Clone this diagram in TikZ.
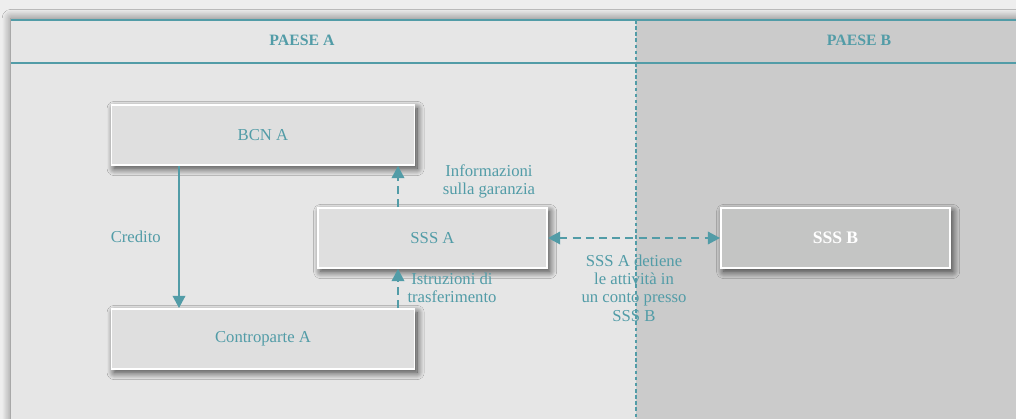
\documentclass[tikz,border=0pt]{standalone}
\usepackage{fontspec}
\setmainfont{Liberation Serif}
\usetikzlibrary{arrows.meta,positioning,shadows.blur}
\usepackage{xcolor}

\definecolor{verdeacqua}{RGB}{82,156,167}
\definecolor{sfondo}{RGB}{238,238,238}
\definecolor{paeseA}{RGB}{230,230,230}
\definecolor{paeseB}{RGB}{203,203,203}
\definecolor{boxchiaro}{RGB}{223,223,223}
\definecolor{boxscuro}{RGB}{196,197,196}

\begin{document}
\begin{tikzpicture}[font=\fontsize{9.5}{10.3}\selectfont, >={Triangle[length=7pt,width=7pt]}]
    % Stili
    \tikzstyle{riquadro} = [rectangle, draw=white, line width=1pt, fill=boxchiaro, text=verdeacqua, minimum width=6.06cm, minimum height=1.2cm, blur shadow={shadow blur steps=16, shadow xshift=1.5pt, shadow yshift=-2pt, shadow blur radius=4pt, shadow opacity=75}]
    \tikzstyle{etichetta} = [text=verdeacqua, align=center]
    \tikzstyle{intestazione} = [text=verdeacqua, font=\fontsize{9}{10}\selectfont\bfseries]
    \tikzstyle{flusso} = [draw=verdeacqua, line width=1.5pt, ->]
    \tikzstyle{tratteggio} = [flusso, dash pattern=on 4.5pt off 3pt]

    \useasboundingbox (0,0) rectangle (20.32,8.38);

    % Sfondo e paesi
    \fill[sfondo] (0,0) rectangle (20.32,8.38);
    \fill[paeseA, blur shadow={shadow blur steps=16, shadow xshift=0pt, shadow yshift=1pt, shadow blur radius=5pt, shadow opacity=50}] (0.22,-0.5) rectangle (20.8,7.98);
    \fill[paeseB] (12.72,0) rectangle (20.32,7.98);
    \draw[verdeacqua, line width=1pt] (0.22,7.98) -- (20.32,7.98);
    \draw[verdeacqua, line width=1.4pt] (0.22,7.12) -- (20.32,7.12);
    \draw[verdeacqua, line width=0.6pt, dash pattern=on 2pt off 1.5pt] (12.72,7.98) -- (12.72,0);

    \node[intestazione] (titoloA) at (6.04,7.58) {PAESE A};
    \node[intestazione] (titoloB) at (17.18,7.58) {PAESE B};

    % Soggetti
    \node[riquadro] (bcn) at (5.26,5.68) {BCN A};
    \node[riquadro, minimum width=4.58cm] (sssA) at (8.65,3.62) {SSS A};
    \node[riquadro] (contro) at (5.26,1.60) {Controparte A};
    \node[riquadro, minimum width=4.58cm, fill=boxscuro, text=white, font=\bfseries] (sssB) at (16.71,3.62) {SSS B};

    \coordinate (xcredito) at (3.58,0);
    \coordinate (xinfo) at (7.96,0);

    % Flussi
    \draw[flusso] (bcn.south -| xcredito) -- (contro.north -| xcredito) node[midway, left=0.22cm, etichetta] {Credito};
    \draw[tratteggio] (sssA.north -| xinfo) -- (bcn.south -| xinfo);
    \draw[tratteggio] (contro.north -| xinfo) -- (sssA.south -| xinfo);
    \draw[tratteggio, <->] (sssA.east) -- (sssB.west) node[midway, below=0.2cm, etichetta] {SSS A detiene\\le attività in\\un conto presso\\SSS B};

    \node[etichetta] (info) at (9.78,4.76) {Informazioni\\sulla garanzia};
    \node[etichetta] (istr) at (9.04,2.62) {Istruzioni di\\trasferimento};
\end{tikzpicture}
\end{document}
